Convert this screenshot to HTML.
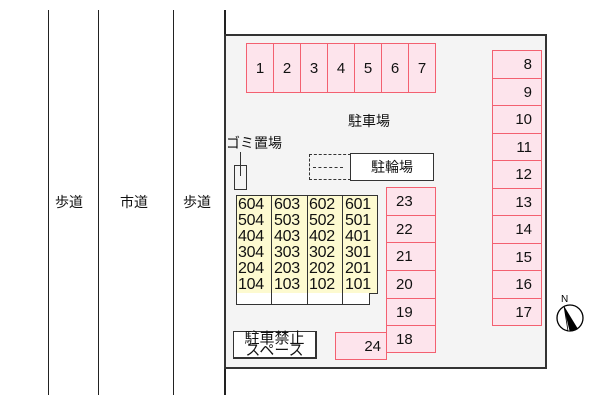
<!DOCTYPE html><html><head><meta charset="utf-8"><style>
body{margin:0;width:600px;height:400px;background:#fff;position:relative;overflow:hidden;font-family:"Liberation Sans","Noto Sans CJK JP",sans-serif;color:#111}
div{position:absolute;box-sizing:border-box}
.v{width:1px;background:#222;top:10px;height:385px}
.p{background:#fde4ec;border:1px solid #f36070;font-size:15px;display:flex;align-items:center;justify-content:center}
.t{font-size:14px}
.n{font-size:16px;line-height:16px;letter-spacing:-0.3px}
</style></head><body>
<div class="v" style="left:48px"></div><div class="v" style="left:98px"></div><div class="v" style="left:173px"></div><div class="v" style="left:224px;width:2px"></div>
<div class="t" style="left:55px;top:192px">歩道</div>
<div class="t" style="left:120px;top:192px">市道</div>
<div class="t" style="left:183px;top:192px">歩道</div>
<div style="left:224px;top:34px;width:323px;height:335px;background:#f4f4f4;border:2px solid #333"></div>
<div class="p" style="left:246px;top:43px;width:28px;height:50px">1</div>
<div class="p" style="left:273px;top:43px;width:28px;height:50px">2</div>
<div class="p" style="left:300px;top:43px;width:28px;height:50px">3</div>
<div class="p" style="left:327px;top:43px;width:28px;height:50px">4</div>
<div class="p" style="left:354px;top:43px;width:28px;height:50px">5</div>
<div class="p" style="left:381px;top:43px;width:28px;height:50px">6</div>
<div class="p" style="left:408px;top:43px;width:28px;height:50px">7</div>
<div class="p" style="left:492px;top:50px;width:50px;height:29px;justify-content:flex-end;padding-right:9px">8</div>
<div class="p" style="left:492px;top:78px;width:50px;height:29px;justify-content:flex-end;padding-right:9px">9</div>
<div class="p" style="left:492px;top:105px;width:50px;height:29px;justify-content:flex-end;padding-right:9px">10</div>
<div class="p" style="left:492px;top:133px;width:50px;height:29px;justify-content:flex-end;padding-right:9px">11</div>
<div class="p" style="left:492px;top:160px;width:50px;height:29px;justify-content:flex-end;padding-right:9px">12</div>
<div class="p" style="left:492px;top:188px;width:50px;height:29px;justify-content:flex-end;padding-right:9px">13</div>
<div class="p" style="left:492px;top:215px;width:50px;height:29px;justify-content:flex-end;padding-right:9px">14</div>
<div class="p" style="left:492px;top:243px;width:50px;height:29px;justify-content:flex-end;padding-right:9px">15</div>
<div class="p" style="left:492px;top:270px;width:50px;height:29px;justify-content:flex-end;padding-right:9px">16</div>
<div class="p" style="left:492px;top:298px;width:50px;height:28px;justify-content:flex-end;padding-right:9px">17</div>
<div class="p" style="left:386px;top:187px;width:50px;height:29px;justify-content:flex-start;padding-left:9px">23</div>
<div class="p" style="left:386px;top:215px;width:50px;height:29px;justify-content:flex-start;padding-left:9px">22</div>
<div class="p" style="left:386px;top:242px;width:50px;height:29px;justify-content:flex-start;padding-left:9px">21</div>
<div class="p" style="left:386px;top:270px;width:50px;height:29px;justify-content:flex-start;padding-left:9px">20</div>
<div class="p" style="left:386px;top:298px;width:50px;height:29px;justify-content:flex-start;padding-left:9px">19</div>
<div class="p" style="left:386px;top:325px;width:50px;height:28px;justify-content:flex-start;padding-left:9px">18</div>
<div class="p" style="left:335px;top:332px;width:52px;height:28px;justify-content:flex-end;padding-right:5px">24</div>
<div style="left:348px;top:111px;font-size:14px">駐車場</div>
<div style="left:226px;top:133px;font-size:14px">ゴミ置場</div>
<div style="left:234px;top:165px;width:13px;height:25px;border:1px solid #333"></div>
<div style="left:240px;top:152px;width:1px;height:24px;background:#333"></div>
<div style="left:309px;top:154px;width:42px;height:26px;border:1px dashed #333"></div>
<div style="left:313px;top:167px;width:30px;height:0;border-top:1px dashed #333"></div>
<div style="left:350px;top:153px;width:84px;height:28px;border:1px solid #333;background:#fff;font-size:14px;display:flex;align-items:center;justify-content:center">駐輪場</div>
<div style="left:236px;top:195px;width:142px;height:99px;background:#fdfad0;border:1px solid #333"></div>
<div style="left:236px;top:293px;width:134px;height:12px;background:#fff;border:1px solid #333;border-top:none"></div>
<div style="left:271px;top:195px;width:1px;height:110px;background:#333"></div>
<div style="left:307px;top:195px;width:1px;height:110px;background:#333"></div>
<div style="left:342px;top:195px;width:1px;height:110px;background:#333"></div>
<div class="n" style="left:238px;top:197px">604<br>504<br>404<br>304<br>204<br>104</div>
<div class="n" style="left:274px;top:197px">603<br>503<br>403<br>303<br>203<br>103</div>
<div class="n" style="left:309px;top:197px">602<br>502<br>402<br>302<br>202<br>102</div>
<div class="n" style="left:345px;top:197px">601<br>501<br>401<br>301<br>201<br>101</div>
<div style="left:233px;top:331px;width:84px;height:28px;border:1px solid #333;border-width:1px 2px 2px 1px;background:#fff;font-size:15px;line-height:12px;text-align:center;padding-top:1px">駐車禁止<br>スペース</div>
<svg style="position:absolute;left:550px;top:290px" width="40" height="45"><text x="11" y="12" font-size="10" font-family="Liberation Sans">N</text><circle cx="20" cy="28" r="13" fill="#fff" stroke="#000" stroke-width="1.3"/><path d="M14 16 L28 39 L20 41 Z" fill="#000"/><path d="M14 16 L20 41 L18 41 Z" fill="#fff" stroke="#000" stroke-width="0.8"/></svg>
</body></html>
